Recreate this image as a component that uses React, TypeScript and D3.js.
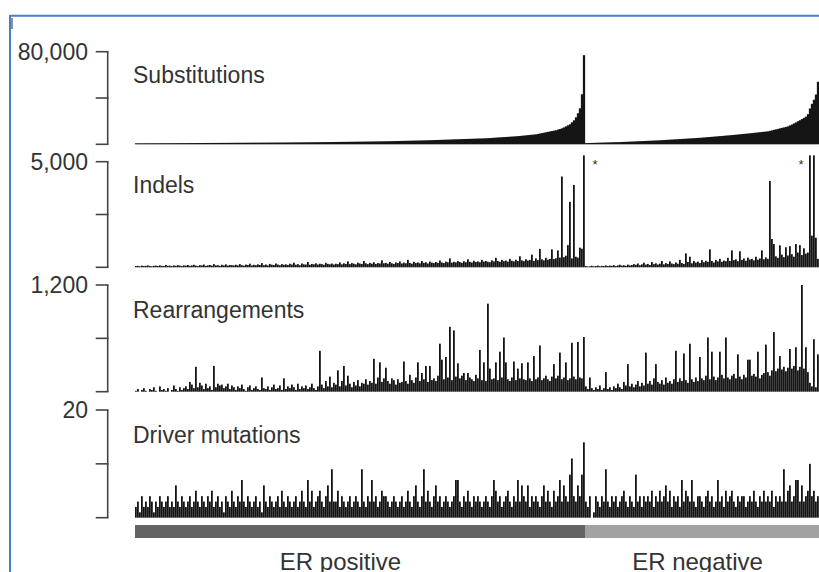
import React from "react";
import * as d3 from "d3";

// ---- data ----
const groups = ["ER positive", "ER negative"];
const panelNames = ["Substitutions", "Indels", "Rearrangements", "Driver mutations"];
const axisMax = [80000, 5000, 1200, 20];

const erPosSubs = [
  860,865,870,880,885,890,900,905,910,915,920,930,935,940,950,955,960,970,975,985,990,1000,1010,1020,1030,
  1040,1050,1060,1070,1080,1090,1100,1110,1120,1130,1140,1150,1160,1170,1180,1190,1200,1210,1220,1230,1240,1250,1260,1275,1290,
  1300,1310,1320,1330,1340,1350,1360,1370,1380,1390,1400,1410,1420,1430,1440,1450,1460,1470,1480,1490,1500,1510,1520,1535,1550,
  1560,1575,1590,1610,1625,1640,1660,1675,1690,1710,1725,1740,1760,1775,1790,1810,1830,1850,1865,1880,1900,1920,1940,1960,1980,
  2000,2020,2045,2070,2095,2120,2140,2165,2190,2210,2235,2260,2280,2305,2330,2355,2380,2400,2425,2450,2475,2500,2525,2550,2575,
  2600,2640,2680,2720,2770,2810,2850,2900,2940,2980,3020,3060,3100,3140,3180,3220,3260,3300,3340,3390,3430,3480,3530,3580,3640,
  3700,3760,3820,3880,3940,4000,4060,4120,4180,4240,4300,4360,4420,4480,4540,4600,4660,4720,4780,4840,4900,4960,5020,5080,5140,
  5200,5300,5400,5520,5640,5760,5880,6000,6110,6220,6330,6440,6560,6680,6790,
  6900,7050,7200,7380,7550,7720,7900,8080,8250,8420,
  8600,8950,9300,9650,10000,
  10400,10750,11100,11450,11800,
  12100,12700,13200,
  13800,14600,15500,16400,17300,19000,20700,23300,26800,31100,43200,77000,
];
const erNegSubs = [
  1040,1090,1145,1200,1250,1305,1360,1415,1470,1520,1575,1630,1685,1740,1790,1845,1870,
  1900,1980,2060,2140,2210,2290,2370,2450,2530,2600,2680,2760,2840,2920,3000,3070,3150,3230,3310,3390,
  3460,3570,3670,3780,3890,4000,4100,4210,4320,4420,4530,4640,4740,4850,4960,5060,5170,5280,5390,5500,
  5600,5750,5900,6040,6190,6330,6480,6630,6770,6920,7070,7210,7360,7510,7650,
  7800,7970,8140,8310,8480,8650,8820,8990,9160,9330,
  9500,9690,9880,10070,10260,10450,10640,10830,11020,
  11200,11600,12000,12500,12900,13300,
  13800,14200,14600,15000,
  15500,16300,17100,18000,18900,
  19900,20800,21800,22800,23900,
  26000,31000,35000,38500,43000,54000,
];

const erPosIndels = [
  60,70,50,80,60,70,90,60,50,70,80,60,90,70,60,110,70,80,60,90,70,100,80,60,90,
  80,110,70,90,120,80,60,100,90,130,70,90,110,80,150,90,100,70,120,90,140,80,110,100,90,
  120,90,150,100,80,130,110,170,90,120,100,140,110,200,100,130,90,160,120,110,180,130,100,150,120,
  140,110,170,130,220,120,150,100,180,140,130,250,120,160,140,190,130,170,150,120,210,160,140,180,130,
  170,150,230,140,190,160,280,150,200,170,140,220,180,160,300,190,150,210,170,240,160,200,180,330,190,
  210,170,250,190,160,230,200,280,180,220,190,350,210,170,260,200,230,190,300,210,240,180,270,220,200,
  250,210,320,230,200,270,240,420,220,260,230,300,250,210,290,240,380,260,230,310,250,280,240,350,270,
  300,260,240,330,280,450,300,260,350,290,320,270,400,310,280,360,300,520,330,290,380,320,350,600,300,
  420,340,870,380,330,450,360,400,850,390,430,800,460,
  4300,480,550,1050,3100,420,3900,500,460,930,880,5300,
];
const erNegIndels = [
  60,40,50,70,50,60,80,50,70,60,90,60,80,70,100,60,90,120,80,100,70,130,90,110,150,
  120,180,100,140,220,130,160,110,250,150,190,130,170,300,140,200,160,280,180,150,230,170,350,200,160,
  660,250,500,190,300,220,270,200,340,240,310,260,850,300,230,350,280,400,260,320,290,450,300,800,340,
  380,290,760,350,420,310,460,370,400,330,500,360,420,800,380,470,400,4090,1340,1100,520,450,1040,600,480,
  950,560,1000,620,500,1100,700,1050,580,900,650,700,5300,1500,5300,1400,400,
];

const erPosRearr = [
  10,30,0,20,40,10,0,30,20,50,10,0,60,20,30,10,40,0,20,70,30,10,50,20,40,
  60,30,110,80,40,280,50,100,70,30,90,40,60,20,290,50,90,70,80,40,60,90,30,70,50,
  20,60,40,80,30,10,50,70,20,40,60,30,20,160,40,30,60,20,50,80,30,40,70,20,150,
  30,60,40,80,50,20,90,30,60,40,70,30,50,90,40,20,60,460,80,40,120,60,170,50,100,
  80,240,60,120,290,70,180,90,50,110,70,130,60,100,90,140,80,120,100,370,90,160,330,110,150,
  270,120,90,150,130,80,140,100,110,340,120,90,190,130,100,160,330,120,210,140,290,110,290,130,150,
  120,180,540,360,140,390,160,730,130,690,170,320,150,180,210,130,210,160,140,120,190,150,470,130,330,
  120,990,260,140,150,330,130,450,160,610,330,140,120,160,340,130,260,150,320,140,130,330,150,120,400,
  140,160,520,130,150,180,140,120,170,310,150,180,440,140,160,330,130,150,550,170,140,560,160,150,615,
];
const erNegRearr = [
  60,30,160,40,20,50,30,70,20,40,220,30,50,20,60,40,90,50,30,110,70,310,60,90,50,
  80,120,60,100,70,440,90,120,80,150,310,110,90,130,80,160,100,120,90,140,460,110,150,120,430,
  130,100,540,140,110,160,120,390,150,130,180,610,140,450,170,130,160,450,190,150,610,160,140,180,200,
  150,420,170,140,190,160,360,360,180,200,170,450,150,190,210,530,220,180,240,670,230,260,400,250,280,
  230,270,480,260,290,500,240,280,1200,260,500,220,100,60,590,50,420,
];

const erPosDrivers = [
  2,3,1,4,2,3,2,4,3,1,3,2,4,3,2,3,4,2,3,2,6,3,2,4,3,
  2,3,4,2,3,5,3,2,4,3,2,4,3,5,2,3,4,2,3,1,4,3,2,5,3,
  2,4,3,7,3,2,4,3,2,3,4,2,3,1,6,3,2,4,3,2,3,4,2,5,3,
  2,4,3,2,3,4,2,3,5,3,2,7,3,5,2,3,4,5,3,2,4,6,3,9,3,
  3,5,2,4,3,2,3,4,2,3,4,3,2,9,3,2,4,3,7,3,4,2,3,5,4,
  4,3,2,3,4,3,2,3,4,2,3,5,3,2,4,6,3,2,4,9,3,5,3,2,4,
  6,3,4,2,3,4,3,2,3,4,7,7,3,2,4,3,5,3,2,4,3,4,3,2,3,
  4,3,2,4,7,5,3,4,2,3,4,5,3,2,4,3,7,3,6,4,3,6,2,4,3,
  4,3,2,4,6,3,5,3,2,5,3,4,7,3,6,4,3,8,11,4,3,6,4,8,14,
];
const erNegDrivers = [
  3,2,4,0,1,4,3,2,4,3,9,3,2,4,3,4,2,3,4,5,3,2,4,3,2,
  8,3,4,2,4,3,4,3,5,2,4,3,5,3,4,6,3,5,2,4,3,4,2,7,3,
  5,4,3,7,3,2,4,4,3,2,4,5,3,4,2,3,7,3,4,2,5,3,4,5,3,
  2,4,3,4,4,2,3,4,3,5,3,2,4,3,5,3,4,3,5,2,4,3,4,3,9,
  3,5,6,3,4,7,7,3,6,3,4,5,10,4,5,3,4,
];

const nPos = erPosSubs.length;
const panelValues = [
  [...erPosSubs, ...erNegSubs],
  [...erPosIndels, ...erNegIndels],
  [...erPosRearr, ...erNegRearr],
  [...erPosDrivers, ...erNegDrivers],
];

// ---- layout ----
const W = 819;
const H = 572;
const panelTop = [51.7, 161.7, 285, 410];
const panelBottom = [144.3, 267.3, 391.7, 517.7];
const labelBaseline = [82.5, 192.5, 317.5, 442.5];
const axisX = 107.7;
const plotLeft = 135;
const plotRight = 819;

export default function App() {
  const total = panelValues[0].length;
  const x = d3
    .scaleBand<number>()
    .domain(d3.range(total))
    .range([plotLeft, plotRight])
    .paddingInner(0)
    .paddingOuter(0);
  const bw = x.bandwidth();
  const fmt = d3.format(",");
  const groupEdge = x(nPos) as number;

  return (
    <svg
      width={W}
      height={H}
      style={{ position: "absolute", left: 0, top: 0, background: "#fff" }}
      fontFamily="'Liberation Sans', Arial, Helvetica, sans-serif"
    >
      {/* blue frame */}
      <line x1={10} y1={15.8} x2={W} y2={15.8} stroke="#4a7ec3" strokeWidth={2} />
      <line x1={10} y1={15} x2={10} y2={H} stroke="#4a7ec3" strokeWidth={2} />
      <line x1={12} y1={18} x2={12} y2={29} stroke="#222" strokeWidth={1} />

      {panelValues.map((vals, p) => {
        const y = d3.scaleLinear().domain([0, axisMax[p]]).range([panelBottom[p], panelTop[p]]);
        const ticks = [axisMax[p], axisMax[p] / 2, 0];
        const solid = p === 0;
        const w = solid ? bw + 0.3 : bw * 0.9;
        const off = solid ? -0.15 : 0;
        return (
          <g key={p}>
            <line x1={axisX} x2={axisX} y1={y(axisMax[p])} y2={y(0)} stroke="#444" strokeWidth={1.6} />
            {ticks.map((t) => (
              <line key={t} x1={axisX - 12} x2={axisX + 0.8} y1={y(t)} y2={y(t)} stroke="#444" strokeWidth={1.6} />
            ))}
            <text x={88} y={y(axisMax[p])} dy="0.35em" textAnchor="end" fontSize={23} fill="#333">
              {fmt(axisMax[p])}
            </text>
            <text x={133} y={labelBaseline[p]} fontSize={23} fill="#333">
              {panelNames[p]}
            </text>
            {vals.slice(0, total).map((v, i) => {
              const yy = y(v);
              return (
                <rect
                  key={i}
                  x={(x(i) as number) + off}
                  y={yy}
                  width={w}
                  height={Math.max(0, y(0) - yy)}
                  fill={solid ? "#151515" : "#141414"}
                />
              );
            })}
          </g>
        );
      })}

      {/* truncation marks on the indel panel */}
      <text x={(x(nPos - 1) as number) + 12} y={169} fontSize={13} textAnchor="middle" fill="#333">*</text>
      <text x={(x(nPos + 112) as number) - 8} y={169} fontSize={13} textAnchor="middle" fill="#333">*</text>

      {/* group bar */}
      <rect x={plotLeft} y={525} width={groupEdge - plotLeft} height={13} fill="#636363" />
      <rect x={groupEdge} y={525} width={plotRight - groupEdge} height={13} fill="#a2a2a2" />
      <text x={340.5} y={569.5} fontSize={24} textAnchor="middle" fill="#333">{groups[0]}</text>
      <text x={697.5} y={569.5} fontSize={24} textAnchor="middle" fill="#333">{groups[1]}</text>
    </svg>
  );
}
